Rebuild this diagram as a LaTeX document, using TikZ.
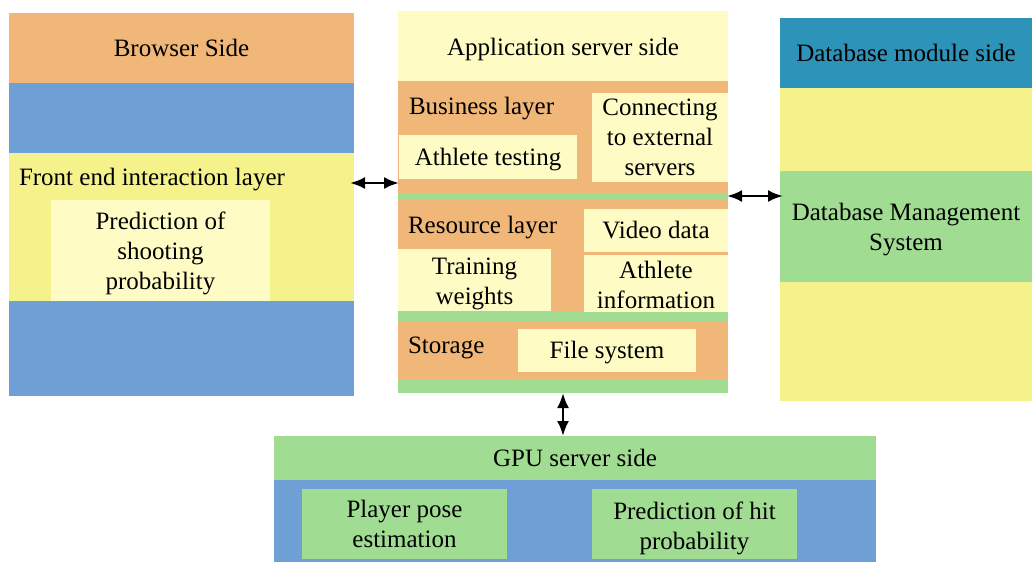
\documentclass[tikz,border=0pt]{standalone}
\usepackage{fontspec}
\setmainfont{Liberation Serif}
\usetikzlibrary{arrows.meta}

\definecolor{cOrange}{HTML}{F0B778}
\definecolor{cBlue}{HTML}{6FA0D5}
\definecolor{cYellow}{HTML}{F5F28B}
\definecolor{cLight}{HTML}{FEFCC4}
\definecolor{cGreen}{HTML}{A1DC93}
\definecolor{cTeal}{HTML}{2D93B8}

\newcommand\bodyfont{\fontsize{25}{30}\selectfont}

% filled block: [text drop], name, colour, x1, y1, x2, y2, text
\newcommand\blk[8][0]{%
  \node[panel, fill=#3, minimum width={#6-#4}, minimum height={#7-#5}] (#2) at (#4,#5) {};
  \node[txt] (#2-t) at ([yshift=-#1pt]#2.center) {#8};}

\tikzset{
  panel/.style={rectangle, inner sep=0pt, outer sep=0pt, anchor=north west},
  txt/.style={inner sep=0pt, outer sep=0pt, align=center, font=\bodyfont, text=black},
  lbl/.style={inner sep=0pt, outer sep=0pt, anchor=base west, font=\bodyfont},
  link/.style={line width=2.5pt,
    arrows={Latex[length=15pt,width=12pt]-Latex[length=15pt,width=12pt]}},
}

\begin{document}
\begin{tikzpicture}[x=1pt,y=-1pt]
\useasboundingbox (0,0) rectangle (1032,563);

% browser side
\blk{bhead}{cOrange}{9}{13}{354}{83}{Browser Side}
\blk{bblueA}{cBlue}{9}{83}{354}{153}{}
\blk{front}{cYellow}{9}{153}{354}{301}{}
\blk{bblueB}{cBlue}{9}{301}{354}{396}{}
\blk[3]{shoot}{cLight}{51}{200}{270}{301}{Prediction of\\shooting\\probability}
\node[lbl] (frontlbl) at (19,185) {Front end interaction layer};

% application server side
\blk[3]{apphead}{cLight}{398}{11}{728}{81}{Application server side}
\blk{business}{cOrange}{398}{81}{728}{193}{}
\blk{gA}{cGreen}{398}{193}{728}{200}{}
\blk{resource}{cOrange}{398}{200}{728}{311}{}
\blk{gB}{cGreen}{398}{311}{728}{322}{}
\blk{storage}{cOrange}{398}{322}{728}{380}{}
\blk{gC}{cGreen}{398}{380}{728}{393}{}

\blk[3]{athtest}{cLight}{399}{135}{577}{179}{Athlete testing}
\blk{connect}{cLight}{592}{93}{728}{182}{Connecting\\to external\\servers}
\blk{video}{cLight}{584}{209}{728}{252}{Video data}
\blk[1]{athinfo}{cLight}{584}{255}{728}{312}{Athlete\\information}
\blk[4]{weights}{cLight}{398}{249}{551}{311}{Training\\weights}
\blk[2]{filesys}{cLight}{518}{329}{696}{372}{File system}

\node[lbl] (buslbl) at (409,114) {Business layer};
\node[lbl] (reslbl) at (408,233) {Resource layer};
\node[lbl] (stolbl) at (408,353) {Storage};

% database module side
\blk{dbhead}{cTeal}{780}{18}{1032}{88}{Database module side}
\blk{dbyA}{cYellow}{780}{88}{1032}{171}{}
\blk[3]{dbms}{cGreen}{780}{171}{1032}{282}{Database Management\\System}
\blk{dbyB}{cYellow}{780}{282}{1032}{401}{}

% GPU server side
\blk{gpuhead}{cGreen}{274}{436}{876}{480}{GPU server side}
\blk{gpubody}{cBlue}{274}{480}{876}{562}{}
\blk{pose}{cGreen}{302}{489}{507}{559}{Player pose\\estimation}
\blk[4]{hit}{cGreen}{592}{489}{797}{559}{Prediction of hit\\probability}

% connectors
\coordinate (ya) at (0,183);
\coordinate (yb) at (0,196);
\draw[link] ([xshift=-4pt]front.east |- ya) -- ([xshift=1pt]apphead.west |- ya);
\draw[link] ([xshift=-1pt]apphead.east |- yb) -- ([xshift=3pt]dbhead.west |- yb);
\draw[link] (gC.south) -- (gC.south |- gpuhead.north);
\end{tikzpicture}
\end{document}
